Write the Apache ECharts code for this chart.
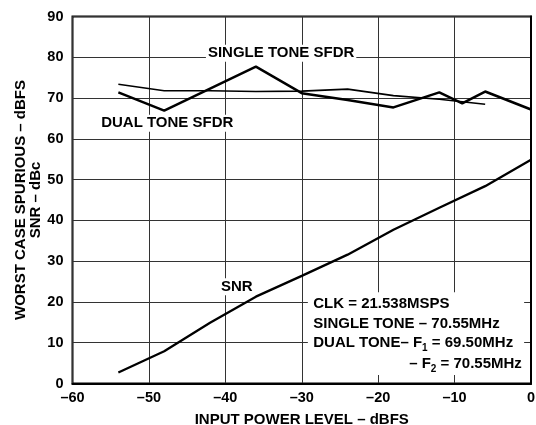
<!DOCTYPE html>
<html>
<head>
<meta charset="utf-8">
<script src="https://cdn.jsdelivr.net/npm/echarts@6/dist/echarts.min.js"></script>
<style>
  html, body { margin: 0; padding: 0; background: #fff; }
  #chart { width: 536px; height: 425px; }
</style>
</head>
<body>
<div id="chart"></div>
<script>
// values, [input level dBFS, dB]
const singleToneSfdr = [[-54, 71.4], [-48, 66.9], [-36, 77.7], [-30, 71.2], [-24, 69.5], [-18, 67.7], [-12, 71.4], [-9, 68.7], [-6, 71.6], [0, 67.2]];
const dualToneSfdr = [[-54, 73.4], [-48, 71.8], [-42, 71.8], [-36, 71.6], [-30, 71.7], [-24, 72.2], [-18, 70.6], [-12, 69.7], [-6, 68.5]];
const snr = [[-54, 2.7], [-48, 7.9], [-42, 14.9], [-36, 21.3], [-30, 26.4], [-24, 31.6], [-18, 37.7], [-12, 43.1], [-6, 48.4], [0, 54.9]];

const xTicks = [-60, -50, -40, -30, -20, -10, 0];
const yTicks = [0, 10, 20, 30, 40, 50, 60, 70, 80, 90];

const FONT = '"Liberation Sans", Arial, sans-serif';

const myChart = echarts.init(document.getElementById('chart'));

const lineSeries = (name, data, width) => ({
  name: name,
  type: 'line',
  data: data,
  showSymbol: false,
  symbol: 'none',
  lineStyle: { color: '#000', width: width },
  z: 3,
});

const option = {
  animation: false,
  backgroundColor: '#fff',
  textStyle: { fontFamily: FONT },
  grid: {
    left: 72.5,
    right: 5,
    top: 16.5,
    bottom: 41.5,
    containLabel: false,
    outerBoundsMode: 'none',
    show: true,
    borderColor: '#000',
    borderWidth: 2,
  },
  xAxis: {
    type: 'value',
    min: xTicks[0],
    max: xTicks[xTicks.length - 1],
    interval: 10,
    name: 'INPUT POWER LEVEL – dBFS',
    nameLocation: 'middle',
    nameGap: 29,
    nameTextStyle: { color: '#000', fontWeight: 'bold', fontSize: 15, fontFamily: FONT },
    axisLine: { show: true, lineStyle: { color: '#000', width: 2 } },
    axisTick: { show: false },
    axisLabel: {
      color: '#000', fontWeight: 'bold', fontSize: 14.5, fontFamily: FONT, margin: 7,
      formatter: v => (v < 0 ? '–' + Math.abs(v) : String(v)),
    },
    splitLine: { show: true, lineStyle: { color: '#333', width: 1 } },
  },
  yAxis: {
    type: 'value',
    min: yTicks[0],
    max: yTicks[yTicks.length - 1],
    interval: 10,
    name: 'WORST CASE SPURIOUS – dBFS\nSNR – dBc',
    nameLocation: 'middle',
    nameGap: 29.5,
    nameMoveOverlap: false,
    nameTextStyle: { color: '#000', fontWeight: 'bold', fontSize: 15, lineHeight: 14.5, align: 'center', fontFamily: FONT },
    axisLine: { show: true, lineStyle: { color: '#000', width: 2 } },
    axisTick: { show: false },
    axisLabel: { color: '#000', fontWeight: 'bold', fontSize: 14.5, fontFamily: FONT, margin: 9 },
    splitLine: { show: true, lineStyle: { color: '#333', width: 1 } },
  },
  series: [
    lineSeries('SINGLE TONE SFDR', singleToneSfdr, 2.5),
    lineSeries('DUAL TONE SFDR', dualToneSfdr, 1.6),
    lineSeries('SNR', snr, 2.3),
  ],
};

myChart.setOption(option);

// annotations, anchored in data coordinates
const px = (x, y) => myChart.convertToPixel({ gridIndex: 0 }, [x, y]);
const txt = (x, y, text, extra) => {
  const p = px(x, y);
  return {
    type: 'text',
    x: p[0],
    y: p[1],
    z: 10,
    style: Object.assign({
      text: text,
      fill: '#000',
      font: 'bold 15px ' + FONT,
      align: 'center',
      verticalAlign: 'middle',
    }, extra || {}),
  };
};

const boxTL = px(-29.2, 22.4);
const boxBR = px(-0.9, 2.1);
const sub = { fontSize: 10, lineHeight: 10, verticalAlign: 'bottom', fontWeight: 'bold', fontFamily: FONT };
const main = { fontSize: 15, lineHeight: 21, fontWeight: 'bold', fontFamily: FONT };

myChart.setOption({
  graphic: [
    txt(-32.7, 81.0, 'SINGLE TONE SFDR', { backgroundColor: '#fff', padding: [1, 2] }),
    txt(-47.6, 63.8, 'DUAL TONE SFDR', { backgroundColor: '#fff', padding: [1, 2] }),
    txt(-38.5, 23.7, 'SNR', { backgroundColor: '#fff', padding: [1, 2] }),
    {
      type: 'rect',
      z: 9,
      shape: { x: boxTL[0], y: boxTL[1], width: boxBR[0] - boxTL[0], height: boxBR[1] - boxTL[1] },
      style: { fill: '#fff' },
    },
    txt(-28.5, 19.5, 'CLK = 21.538MSPS', { align: 'left' }),
    txt(-28.5, 14.6, 'SINGLE TONE – 70.55MHz', { align: 'left' }),
    txt(-28.5, 9.9, '{m|DUAL TONE– F}{s|1}{m| = 69.50MHz}', { align: 'left', rich: { m: main, s: sub } }),
    txt(-1.2, 4.8, '{m|– F}{s|2}{m| = 70.55MHz}', { align: 'right', rich: { m: main, s: sub } }),
  ],
});

window.addEventListener('resize', myChart.resize);
</script>
</body>
</html>
